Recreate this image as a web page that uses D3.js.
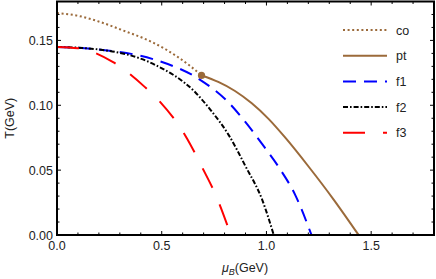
<!DOCTYPE html>
<html>
<head>
<meta charset="utf-8">
<script src="https://cdn.jsdelivr.net/npm/d3@7"></script>
<style>
  html, body { margin: 0; padding: 0; background: #fff; }
  text { font-family: "Liberation Sans", Arial, sans-serif; }
</style>
</head>
<body>
<div id="chart"></div>
<script>
// courbes (muB en GeV, T en GeV)
const coMu = [0, 0.1, 0.21, 0.31, 0.45, 0.52, 0.63, 0.69];
const coT  = [0.171, 0.169, 0.164, 0.158, 0.149, 0.143, 0.131, 0.123];
const ptMu = [0.69, 0.77, 0.85, 0.93, 1.01, 1.09, 1.2, 1.32, 1.44];
const ptT  = [0.123, 0.118, 0.111, 0.1015, 0.0895, 0.075, 0.053, 0.0275, 0];
const f1Mu = [0, 0.2, 0.47, 0.68, 0.82, 0.90, 0.98, 1.06, 1.14, 1.215];
const f1T  = [0.145, 0.143, 0.135, 0.120, 0.102, 0.087, 0.070, 0.052, 0.030, 0];
const f2Mu = [0, 0.2, 0.47, 0.66, 0.74, 0.82, 0.90, 0.98, 1.035];
const f2T  = [0.145, 0.143, 0.131, 0.110, 0.095, 0.077, 0.053, 0.027, 0];
const f3Mu = [0, 0.1, 0.27, 0.42, 0.49, 0.615, 0.695, 0.76, 0.83];
const f3T  = [0.145, 0.144, 0.133, 0.114, 0.103, 0.076, 0.0515, 0.030, 0];
const cpPoint = [0.69, 0.123];

const xTicks = [0, 0.5, 1.0, 1.5];
const yTicks = [0, 0.05, 0.10, 0.15];
const legendLabels = ['co', 'pt', 'f1', 'f2', 'f3'];

const W = 436, H = 279;
const m = { left: 57, right: 2, top: 1.5, bottom: 44 };
const brown = '#9b6a3a';

const series = [
  { name: 'co', mu: coMu, t: coT, color: brown, dash: '2,2.6', width: 2 },
  { name: 'pt', mu: ptMu, t: ptT, color: brown, dash: null, width: 2 },
  { name: 'f1', mu: f1Mu, t: f1T, color: '#0000ff', dash: '13,8', width: 2 },
  { name: 'f2', mu: f2Mu, t: f2T, color: '#000000', dash: '5,2,1.6,2', width: 2 },
  { name: 'f3', mu: f3Mu, t: f3T, color: '#ff0000', dash: '22,18', width: 2 }
];

const x = d3.scaleLinear().domain([0, 1.8]).range([m.left, W - m.right]);
const y = d3.scaleLinear().domain([0, 0.18]).range([H - m.bottom, m.top]);

const svg = d3.select('#chart').append('svg')
  .attr('width', W).attr('height', H);

// tracés des courbes
const line = d3.line()
  .x(d => x(d[0])).y(d => y(d[1]))
  .curve(d3.curveMonotoneX);

const plot = svg.append('g');
series.forEach(s => {
  plot.append('path')
    .datum(d3.zip(s.mu, s.t))
    .attr('d', line)
    .attr('fill', 'none')
    .attr('stroke', s.color)
    .attr('stroke-width', s.width)
    .attr('stroke-dasharray', s.dash);
});

plot.append('circle')
  .attr('cx', x(cpPoint[0])).attr('cy', y(cpPoint[1]))
  .attr('r', 3.6).attr('fill', brown);

// cadre + graduations (vers l'intérieur, sur les 4 côtés)
const x0 = x.range()[0], x1 = x.range()[1];
const y0 = y.range()[0], y1 = y.range()[1];
const frame = svg.append('g').attr('stroke', '#000');

d3.range(0, 1.81, 0.1).forEach(v => {
  const major = xTicks.some(t => Math.abs(t - v) < 1e-6);
  const len = major ? 4 : 2.5;
  frame.append('line').attr('x1', x(v)).attr('x2', x(v))
    .attr('y1', y0).attr('y2', y0 - len).attr('stroke-width', 1);
  frame.append('line').attr('x1', x(v)).attr('x2', x(v))
    .attr('y1', y1).attr('y2', y1 + len).attr('stroke-width', 1);
});
d3.range(0, 0.1801, 0.01).forEach(v => {
  const major = yTicks.some(t => Math.abs(t - v) < 1e-6);
  const len = major ? 4 : 2.5;
  frame.append('line').attr('y1', y(v)).attr('y2', y(v))
    .attr('x1', x0).attr('x2', x0 + len).attr('stroke-width', 1);
  frame.append('line').attr('y1', y(v)).attr('y2', y(v))
    .attr('x1', x1).attr('x2', x1 - len).attr('stroke-width', 1);
});

frame.append('rect')
  .attr('x', x0).attr('y', y1)
  .attr('width', x1 - x0).attr('height', y0 - y1)
  .attr('fill', 'none').attr('stroke-width', 2);

// libellés des graduations
svg.append('g').selectAll('text')
  .data(xTicks).join('text')
  .attr('x', d => x(d)).attr('y', y0 + 15)
  .attr('text-anchor', 'middle')
  .attr('font-size', 12.5).attr('fill', '#222')
  .text(d => d3.format('.1f')(d));

svg.append('g').selectAll('text')
  .data(yTicks).join('text')
  .attr('x', x0 - 4).attr('y', d => y(d) + 4.5)
  .attr('text-anchor', 'end')
  .attr('font-size', 12.5).attr('fill', '#222')
  .text(d => d3.format('.2f')(d));

// titres des axes
const xl = svg.append('text')
  .attr('x', 245).attr('y', 272)
  .attr('text-anchor', 'middle')
  .attr('font-size', 12.5).attr('fill', '#222');
xl.append('tspan').attr('font-style', 'italic').text('μ');
xl.append('tspan').attr('font-style', 'italic').attr('font-size', 9).attr('dy', 3).text('B');
xl.append('tspan').attr('dy', -3).text('(GeV)');

svg.append('text')
  .attr('transform', `translate(14,${(y0 + y1) / 2}) rotate(-90)`)
  .attr('text-anchor', 'middle')
  .attr('font-size', 12.5).attr('fill', '#222')
  .text('T(GeV)');

// légende
const legend = svg.append('g');
series.forEach((s, i) => {
  const ly = 30 + i * 25.7;
  legend.append('line')
    .attr('x1', 343).attr('x2', 387)
    .attr('y1', ly).attr('y2', ly)
    .attr('stroke', s.color).attr('stroke-width', 2)
    .attr('stroke-dasharray', s.dash);
  legend.append('text')
    .attr('x', 396).attr('y', ly + 4.5)
    .attr('font-size', 12.5).attr('fill', '#222')
    .text(legendLabels[i]);
});
</script>
</body>
</html>
